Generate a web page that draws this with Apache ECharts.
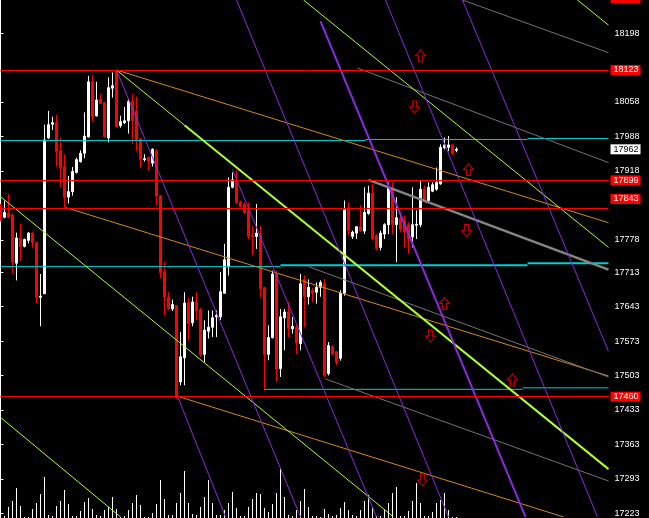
<!DOCTYPE html>
<html>
<head>
<meta charset="utf-8">
<script src="https://cdn.jsdelivr.net/npm/echarts@6/dist/echarts.min.js"></script>
<style>
    html, body { margin: 0; padding: 0; background: #000; }
    #chart { width: 649px; height: 518px; }
</style>
</head>
<body>
<div id="chart"></div>
<script>
// bars: [open, close, low, high]
var candles = [
    [17846, 17819, 17817, 17851], [17824, 17834, 17822, 17858], [17832, 17824, 17822, 17871], [17829, 17733, 17711, 17832],
    [17731, 17782, 17696, 17793], [17782, 17765, 17736, 17811], [17765, 17779, 17763, 17781], [17777, 17792, 17771, 17794],
    [17792, 17773, 17762, 17794], [17773, 17662, 17650, 17773], [17662, 17664, 17603, 17709], [17669, 17981, 17669, 18012],
    [17985, 18012, 17983, 18040], [18013, 18016, 18001, 18028], [18016, 17958, 17927, 18032], [17959, 17924, 17885, 17985],
    [17927, 17865, 17844, 17952], [17865, 17876, 17852, 17908], [17876, 17917, 17868, 17926], [17915, 17941, 17913, 17945],
    [17937, 17954, 17935, 17960], [17954, 17989, 17944, 18037], [17987, 18099, 17986, 18111], [18099, 18028, 18018, 18113],
    [18030, 18062, 18028, 18099], [18064, 18055, 18054, 18074], [18057, 17987, 17986, 18057], [17985, 18087, 17976, 18108],
    [18086, 18091, 18067, 18118], [18121, 18008, 18006, 18122], [18010, 18018, 18006, 18030], [18016, 18020, 18013, 18048],
    [18020, 18059, 17994, 18064], [18059, 18020, 17973, 18074], [18040, 17981, 17958, 18069], [17983, 17942, 17924, 17985],
    [17941, 17943, 17937, 17952], [17946, 17937, 17919, 17947], [17934, 17962, 17927, 17964], [17959, 17867, 17848, 17962],
    [17868, 17711, 17700, 17868], [17714, 17662, 17625, 17733], [17662, 17638, 17636, 17672], [17638, 17647, 17634, 17657],
    [17645, 17458, 17456, 17645], [17490, 17541, 17483, 17591], [17539, 17650, 17483, 17672], [17650, 17608, 17574, 17661],
    [17610, 17652, 17603, 17663], [17652, 17635, 17615, 17672], [17637, 17546, 17541, 17640], [17546, 17595, 17530, 17615],
    [17593, 17601, 17578, 17635], [17601, 17620, 17581, 17635], [17622, 17625, 17581, 17635], [17622, 17673, 17616, 17713],
    [17670, 17738, 17669, 17770], [17724, 17885, 17706, 17905], [17885, 17900, 17883, 17915], [17900, 17854, 17851, 17919],
    [17854, 17846, 17844, 17858], [17850, 17834, 17831, 17854], [17838, 17785, 17780, 17854], [17787, 17784, 17748, 17807],
    [17785, 17792, 17760, 17851], [17790, 17679, 17662, 17807], [17682, 17546, 17473, 17682], [17546, 17580, 17534, 17605],
    [17580, 17709, 17578, 17716], [17709, 17516, 17490, 17716], [17517, 17622, 17500, 17638], [17620, 17632, 17554, 17638],
    [17632, 17598, 17581, 17652], [17598, 17603, 17588, 17622], [17601, 17569, 17547, 17605], [17568, 17689, 17554, 17709],
    [17698, 17663, 17601, 17706], [17663, 17682, 17647, 17698], [17676, 17670, 17652, 17680], [17672, 17682, 17649, 17692],
    [17682, 17692, 17663, 17696], [17689, 17503, 17500, 17699], [17507, 17564, 17503, 17571], [17562, 17546, 17544, 17564],
    [17551, 17530, 17524, 17553], [17538, 17670, 17533, 17676], [17670, 17839, 17665, 17858], [17841, 17797, 17787, 17854],
    [17785, 17794, 17780, 17797], [17792, 17805, 17780, 17805], [17805, 17796, 17794, 17848], [17796, 17834, 17790, 17885],
    [17832, 17873, 17829, 17888], [17873, 17780, 17777, 17892], [17787, 17760, 17757, 17790], [17763, 17792, 17757, 17797],
    [17790, 17809, 17780, 17812], [17809, 17885, 17790, 17895], [17885, 17809, 17790, 17895], [17809, 17823, 17733, 17865],
    [17821, 17800, 17794, 17831], [17817, 17794, 17763, 17827], [17809, 17780, 17751, 17814], [17784, 17809, 17763, 17885],
    [17808, 17810, 17780, 17838], [17809, 17881, 17804, 17898], [17881, 17858, 17854, 17888], [17858, 17885, 17856, 17895],
    [17877, 17890, 17875, 17895], [17881, 17895, 17878, 17925], [17892, 17966, 17890, 17972], [17965, 17971, 17962, 17986],
    [17966, 17971, 17958, 17989], [17971, 17954, 17950, 17972], [17960, 17962, 17956, 17966]
];

var volumes = [
    6, 6, 34, 51, 91, 36, 4, 4, 27, 46, 72, 123, 9, 6, 36, 51, 84, 42, 6, 6,
    22, 49, 61, 27, 9, 6, 24, 34, 64, 27, 4, 6, 24, 46, 69, 39, 4, 4, 14, 41,
    114, 57, 9, 9, 46, 76, 141, 46, 11, 9, 34, 64, 114, 44, 9, 9, 24, 44, 77, 29,
    6, 6, 34, 57, 76, 72, 29, 19, 42, 76, 147, 62, 9, 6, 24, 51, 87, 34, 6, 6,
    4, 26, 12, 6, 9, 29, 49, 24, 9, 6, 24, 52, 69, 29, 6, 6, 24, 46, 76, 94,
    6, 6, 22, 52, 106, 46, 6, 6, 19, 46, 54, 74, 24, 4, 2
];

// price ticks on the right scale
var priceTicks = [17223, 17293, 17363, 17433, 17503, 17573, 17643, 17713, 17778, 17918, 17988, 18058, 18198];
var redLevels = [18268, 18123, 17899, 17843, 17460];
var lastPrice = 17962;
var priceMin = 17216;
var priceMax = 18265;

// trend lines, [[bar, price], [bar, price]]
var purpleLines = [
    [[29, 18123], [75, 17216]],
    [[44.25, 17461], [56.25, 17216]],
    [[58, 17921], [94, 17216]],
    [[59, 18265], [112, 17216]],
    [[96.25, 18265], [149.25, 17216]],
    [[115.5, 18265], [152, 17552]]
];
var purpleBold = [
    [[80, 18222], [131.25, 17216]]
];
var greenLines = [
    [[75.75, 18265], [152, 17763]],
    [[144.25, 18265], [152, 18214]],
    [[29, 18123], [46, 18011]],
    [[0, 17866], [98.25, 17216]],
    [[0, 17418], [30, 17216]]
];
var greenBold = [
    [[46, 18011], [152, 17313]]
];
var orangeLines = [
    [[29, 18123], [152, 17813]],
    [[16.25, 17844], [152, 17502]],
    [[44.25, 17461], [140.75, 17216]]
];
var grayLines = [
    [[115.5, 18265], [152, 18158]],
    [[89.25, 18127], [152, 17935]],
    [[77, 17724], [152, 17500]],
    [[81.25, 17496], [152, 17289]]
];
var grayBold = [
    [[92, 17900], [152, 17718]]
];
var cyanLines = [
    [[0, 17980], [91.25, 17980]],
    [[91.25, 17982], [131.75, 17982]],
    [[131.75, 17984], [152, 17984]],
    [[0, 17724], [70, 17724]],
    [[66, 17475], [130.5, 17475]],
    [[130.5, 17478], [152, 17478]]
];
var cyanBold = [
    [[70, 17727], [131.75, 17727]],
    [[131.75, 17731], [152, 17731]]
];

// signal arrows [bar, price]
var upArrows = [[105, 18152], [117, 17921], [111, 17649], [128, 17494]];
var downArrows = [[103.5, 18048], [116.5, 17797], [107.5, 17583], [105.5, 17291]];

var barIndex = [];
for (var i = 0; i <= 152; i++) {
    barIndex.push(String(i));
}

var UP_PATH = 'path://M5,0L10,6L7,6L7,12L3,12L3,6L0,6Z';
var DOWN_PATH = 'path://M3,0L7,0L7,6L10,6L5,12L0,6L3,6Z';

function lineSeries(list, color, width) {
    return list.map(function (seg) {
        return {
            type: 'line',
            xAxisIndex: 1,
            yAxisIndex: 0,
            data: seg,
            symbol: 'none',
            silent: true,
            z: 3,
            lineStyle: {color: color, width: width}
        };
    });
}

// 1px volume columns snapped to whole pixels
function renderVolume(params, api) {
    var top = api.coord([api.value(0), api.value(1)]);
    var base = api.coord([api.value(0), 0]);
    var x = Math.floor(top[0]);
    var y = Math.round(top[1]);
    return {
        type: 'rect',
        shape: {x: x, y: y, width: 1, height: Math.round(base[1]) - y},
        style: {fill: '#fff'}
    };
}

var chart = echarts.init(document.getElementById('chart'));

var levelMarks = redLevels.map(function (v) {
    var item = {yAxis: Math.min(v, priceMax)};
    if (v > priceMax) {
        // level sits above the visible range: only the cut label shows
        item.label = {formatter: String(v), offset: [0, -2]};
        item.lineStyle = {color: 'rgba(0,0,0,0)'};
    }
    if (v === 17843) {
        item.label = {offset: [0, -9]};
    }
    return item;
});
levelMarks.push({
    yAxis: lastPrice,
    lineStyle: {color: 'rgba(0,0,0,0)'},
    label: {backgroundColor: '#fff', color: '#000'}
});

var series = [
    {
        type: 'custom',
        xAxisIndex: 2,
        yAxisIndex: 1,
        data: volumes.map(function (v, k) { return [k, v]; }),
        renderItem: renderVolume,
        silent: true,
        z: 1
    },
    {
        type: 'candlestick',
        xAxisIndex: 0,
        yAxisIndex: 0,
        data: candles,
        barWidth: 2,
        z: 2,
        itemStyle: {
            color: '#fff',
            color0: '#ff0000',
            borderColor: '#fff',
            borderColor0: '#ff0000',
            borderWidth: 1
        },
        markLine: {
            silent: true,
            symbol: 'none',
            precision: 0,
            animation: false,
            lineStyle: {color: '#ff0000', width: 1, type: 'solid'},
            label: {
                position: 'end',
                distance: 2,
                formatter: function (p) { return String(p.value); },
                color: '#fff',
                backgroundColor: '#ff0000',
                padding: [1, 2, 0, 3],
                fontFamily: 'Liberation Sans',
                fontSize: 9
            },
            data: levelMarks
        }
    }
];

series = series
    .concat(lineSeries(cyanLines, '#00ced1', 1))
    .concat(lineSeries(cyanBold, '#00ced1', 2))
    .concat(lineSeries(orangeLines, '#d2891e', 1))
    .concat(lineSeries(grayLines, '#737373', 1))
    .concat(lineSeries(grayBold, '#858585', 2.5))
    .concat(lineSeries(greenLines, '#adff2f', 1))
    .concat(lineSeries(greenBold, '#adff2f', 2))
    .concat(lineSeries(purpleLines, '#8a2be2', 1))
    .concat(lineSeries(purpleBold, '#8a2be2', 2));

series.push({
    type: 'scatter',
    xAxisIndex: 1,
    yAxisIndex: 0,
    data: upArrows,
    symbol: UP_PATH,
    symbolSize: [10, 12],
    z: 5,
    itemStyle: {color: 'rgba(0,0,0,0)', borderColor: '#ff0000', borderWidth: 1}
});
series.push({
    type: 'scatter',
    xAxisIndex: 1,
    yAxisIndex: 0,
    data: downArrows,
    symbol: DOWN_PATH,
    symbolSize: [10, 12],
    z: 5,
    itemStyle: {color: 'rgba(0,0,0,0)', borderColor: '#ff0000', borderWidth: 1}
});

chart.setOption({
    backgroundColor: '#000',
    animation: false,
    grid: [
        {left: 0.5, right: 40.5, top: 0, bottom: 0},
        {left: 0, right: 41, top: 418, bottom: 0}
    ],
    xAxis: [
        {type: 'category', gridIndex: 0, data: barIndex, boundaryGap: false, show: false},
        {type: 'value', gridIndex: 0, min: 0, max: 152, show: false},
        {type: 'value', gridIndex: 1, min: 0, max: 152, show: false}
    ],
    yAxis: [
        {
            type: 'value',
            gridIndex: 0,
            position: 'right',
            min: priceMin,
            max: priceMax,
            scale: true,
            splitLine: {show: false},
            axisLine: {show: true, lineStyle: {color: '#fff', width: 1}},
            axisTick: {show: true, length: 3, lineStyle: {color: '#fff'}, customValues: priceTicks},
            axisLabel: {
                color: '#fff',
                margin: 6,
                fontFamily: 'Liberation Sans',
                fontSize: 9,
                formatter: function (v) { return String(v); },
                customValues: priceTicks
            }
        },
        {type: 'value', gridIndex: 1, min: 0, max: 300, show: false}
    ],
    series: series
});
</script>
</body>
</html>
